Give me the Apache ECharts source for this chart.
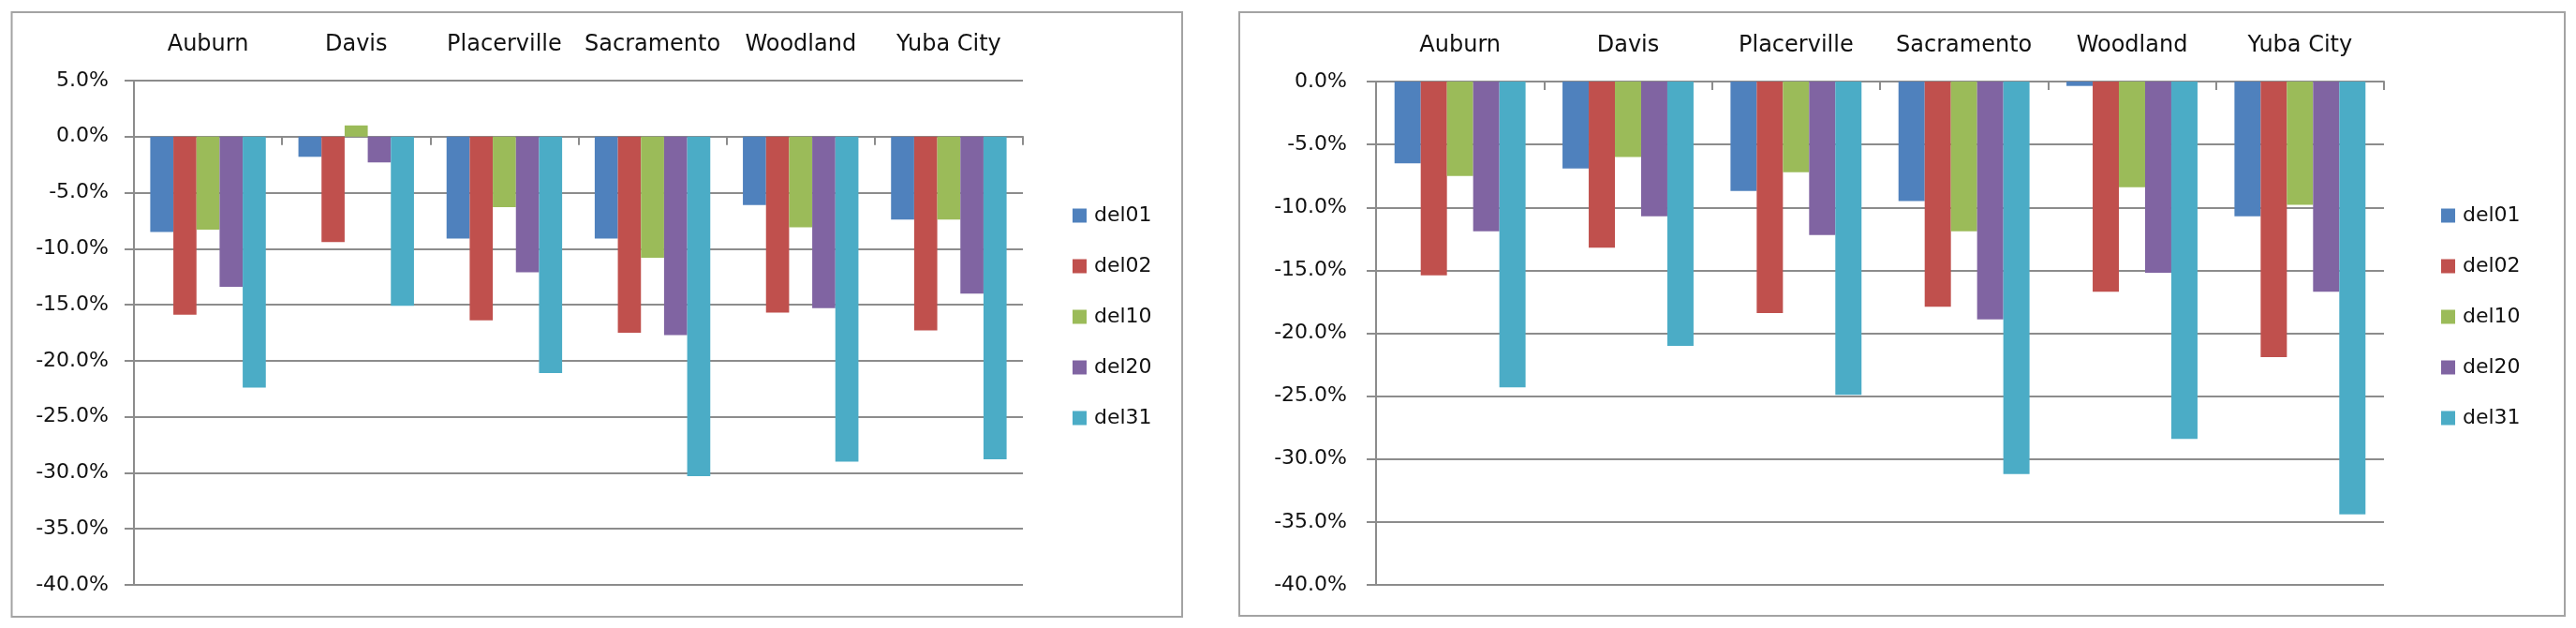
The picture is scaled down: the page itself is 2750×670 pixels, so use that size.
<!DOCTYPE html>
<html>
<head>
<meta charset="utf-8">
<script src="https://cdn.jsdelivr.net/npm/echarts@6/dist/echarts.min.js"></script>
<style>
html,body{margin:0;padding:0;background:#fff;}
#chart{width:2750px;height:670px;}
</style>
</head>
<body>
<div id="chart"></div>
<script>
var categories = ['Auburn', 'Davis', 'Placerville', 'Sacramento', 'Woodland', 'Yuba City'];
var seriesNames = ['del01', 'del02', 'del10', 'del20', 'del31'];
var seriesColors = ['#4F81BD', '#C0504D', '#9BBB59', '#8064A2', '#4BACC6'];

// Left chart values (%)
var left_del01 = [-8.5, -1.8, -9.1, -9.1, -6.1, -7.4];
var left_del02 = [-15.9, -9.4, -16.4, -17.5, -15.7, -17.3];
var left_del10 = [-8.3, 1.0, -6.3, -10.8, -8.1, -7.4];
var left_del20 = [-13.4, -2.3, -12.1, -17.7, -15.3, -14.0];
var left_del31 = [-22.4, -15.1, -21.1, -30.3, -29.0, -28.8];

// Right chart values (%)
var right_del01 = [-6.5, -6.9, -8.7, -9.5, -0.35, -10.7];
var right_del02 = [-15.4, -13.2, -18.4, -17.9, -16.7, -21.9];
var right_del10 = [-7.5, -6.0, -7.2, -11.9, -8.4, -9.8];
var right_del20 = [-11.9, -10.7, -12.2, -18.9, -15.2, -16.7];
var right_del31 = [-24.3, -21.0, -24.9, -31.2, -28.4, -34.4];

// Y axis ranges
var leftYMin = -40, leftYMax = 5, rightYMin = -40, rightYMax = 0, yStep = 5;

var leftData = [left_del01, left_del02, left_del10, left_del20, left_del31];
var rightData = [right_del01, right_del02, right_del10, right_del20, right_del31];

var FONT = 'DejaVu Sans';
var TXT = '#111111';
var GRID = '#8c8c8c';

var chart = echarts.init(document.getElementById('chart'));

function pctFmt(v){ return v.toFixed(1) + '%'; }

var grids = [
  {left: 143, top: 86, width: 949, height: 538},
  {left: 1469, top: 87, width: 1076, height: 537}
];

var xAxes = [];
var yAxes = [];
[0, 1].forEach(function(g){
  // label axis on top
  xAxes.push({
    type: 'category', gridIndex: g, data: categories, position: 'top',
    axisLine: {show: false, onZero: false}, axisTick: {show: false}, splitLine: {show: false},
    axisLabel: {show: true, interval: 0, margin: 26, fontFamily: FONT, fontSize: 24, color: TXT}
  });
  // axis line on zero with ticks
  xAxes.push({
    type: 'category', gridIndex: g, data: categories, position: 'bottom',
    axisLine: {show: true, onZero: true, lineStyle: {color: GRID, width: 2}},
    axisTick: {show: true, interval: 0, length: 9, lineStyle: {color: GRID, width: 2}},
    axisLabel: {show: false}, splitLine: {show: false}
  });
  yAxes.push({
    type: 'value', gridIndex: g,
    min: g === 0 ? leftYMin : rightYMin,
    max: g === 0 ? leftYMax : rightYMax,
    interval: yStep,
    axisLine: {show: true, lineStyle: {color: GRID, width: 2}},
    axisTick: {show: true, length: 10, lineStyle: {color: GRID, width: 2}},
    splitLine: {show: true, lineStyle: {color: GRID, width: 2}},
    axisLabel: {margin: g === 0 ? 27 : 31, fontFamily: FONT, fontSize: 22, color: TXT,
      formatter: pctFmt}
  });
});

var series = [];
seriesNames.forEach(function(name, i){
  series.push({
    name: name, type: 'bar', xAxisIndex: 0, yAxisIndex: 0,
    data: leftData[i], barGap: '0%', barCategoryGap: '22%',
    itemStyle: {color: seriesColors[i]}, z: 3
  });
});
seriesNames.forEach(function(name, i){
  series.push({
    name: name, type: 'bar', xAxisIndex: 2, yAxisIndex: 1,
    data: rightData[i], barGap: '0%', barCategoryGap: '22%',
    itemStyle: {color: seriesColors[i]}, z: 3
  });
});

var legendCommon = {
  orient: 'vertical', icon: 'rect', itemWidth: 15, itemHeight: 15, itemGap: 32,
  data: seriesNames, selectedMode: false,
  textStyle: {fontFamily: FONT, fontSize: 22, color: TXT, padding: [0, 0, 0, 3]}
};

var option = {
  animation: false,
  backgroundColor: '#ffffff',
  grid: grids,
  xAxis: xAxes,
  yAxis: yAxes,
  legend: [
    Object.assign({}, legendCommon, {left: 1140, top: 214}),
    Object.assign({}, legendCommon, {left: 2601, top: 214})
  ],
  graphic: [
    {type: 'rect', shape: {x: 12.5, y: 13, width: 1249.5, height: 645}, z: -1,
      style: {fill: 'none', stroke: '#a3a3a3', lineWidth: 2}},
    {type: 'rect', shape: {x: 1323, y: 13, width: 1415, height: 644}, z: -1,
      style: {fill: 'none', stroke: '#a3a3a3', lineWidth: 2}}
  ],
  series: series
};
chart.setOption(option);
</script>
</body>
</html>
